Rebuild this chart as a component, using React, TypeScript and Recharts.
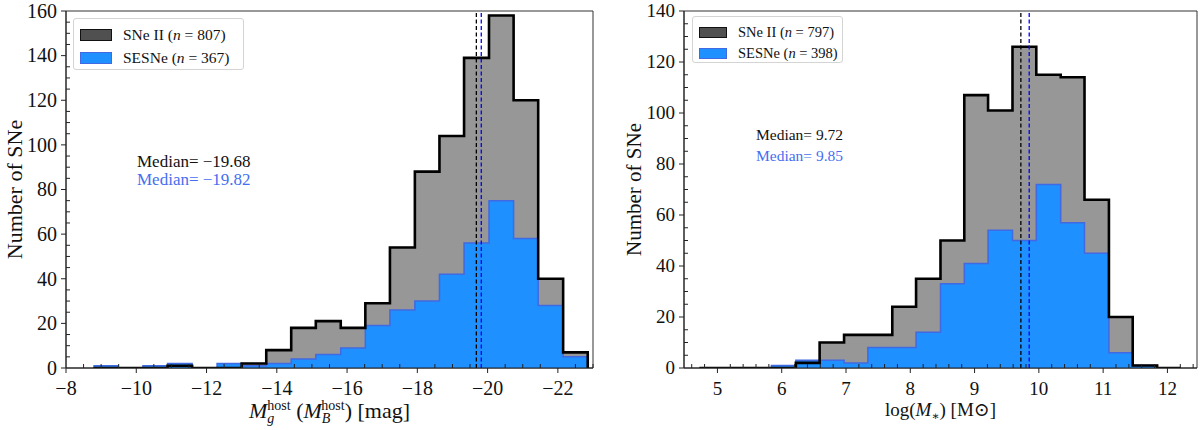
import React from "react";
import {
  ComposedChart,
  Area,
  Line,
  XAxis,
  YAxis,
  ReferenceLine,
  ReferenceArea,
  Label,
} from "recharts";

/* ---------------- data ---------------- */

// host absolute magnitude histogram (20 bins, brightest on the right)
const magEdges = [
  -8.78, -9.48, -10.19, -10.89, -11.59, -12.3, -13.0, -13.7, -14.41, -15.11,
  -15.82, -16.52, -17.22, -17.93, -18.63, -19.33, -20.04, -20.74, -21.44,
  -22.15, -22.85,
];
const magSNII = [0, 0, 0, 1, 0, 0, 2, 8, 18, 21, 18, 29, 54, 88, 104, 139, 158, 120, 40, 7];
const magSESNe = [1, 0, 1, 2, 0, 2, 1, 2, 4, 6, 9, 19, 26, 30, 42, 56, 75, 58, 28, 5];
const magMedianSNII = -19.68;
const magMedianSESNe = -19.82;
const magTicks = [-8, -10, -12, -14, -16, -18, -20, -22];
const magCountTicks = [0, 20, 40, 60, 80, 100, 120, 140, 160];

// host stellar mass histogram
const massEdges = [
  4.72, 5.09, 5.47, 5.84, 6.22, 6.59, 6.97, 7.34, 7.72, 8.09, 8.47, 8.84, 9.21,
  9.59, 9.96, 10.34, 10.71, 11.09, 11.46, 11.84, 12.21,
];
const massSNII = [0, 0, 0, 0, 2, 10, 13, 13, 24, 35, 50, 107, 101, 126, 115, 114, 66, 20, 1, 0];
const massSESNe = [0, 0, 0, 1, 3, 3, 2, 8, 8, 14, 33, 41, 54, 50, 72, 57, 45, 6, 1, 0];
const massMedianSNII = 9.72;
const massMedianSESNe = 9.85;
const massTicks = [5, 6, 7, 8, 9, 10, 11, 12];
const massCountTicks = [0, 20, 40, 60, 80, 100, 120, 140];

/* ---------------- helpers ---------------- */

const FONT = "'Liberation Serif', 'DejaVu Serif', serif";
const GREY = "#979797";
const BLUE = "#1e90ff";
const BLUE_EDGE = "#4169e1";
const TEXT_BLUE = "#466ef0";

const range = (a: number, b: number, step: number) => {
  const out: number[] = [];
  const n = Math.round((b - a) / step);
  for (let i = 0; i <= n; i++) out.push(+(a + i * step).toFixed(4));
  return out;
};

const withMinor = (majors: number[], minors: number[]) =>
  Array.from(new Set([...majors, ...minors])).sort((p, q) => p - q);

const isMajor = (majors: number[], v: number) =>
  majors.some((m) => Math.abs(m - v) < 1e-6);

const fmt = (v: number) => (v < 0 ? `\u2212${Math.abs(v)}` : `${v}`);

// each edge carries the count of the bin to its right; last edge closes at 0
const toRows = (edges: number[], a: number[], b: number[]) =>
  edges.map((x, i) => ({ x, snII: a[i] ?? 0, sesne: b[i] ?? 0 }));

const makeXTick = (majors: number[], fontSize: number) => (props: any) => {
  const { x, y, payload } = props;
  if (!isMajor(majors, payload.value)) {
    return <line x1={x} x2={x} y1={y} y2={y - 4} stroke="#222" strokeWidth={1} />;
  }
  return (
    <g>
      <line x1={x} x2={x} y1={y} y2={y + 5} stroke="#222" strokeWidth={1} />
      <text x={x} y={y + 27} textAnchor="middle" fontSize={fontSize} fontFamily={FONT} fill="#111">
        {fmt(payload.value)}
      </text>
    </g>
  );
};

const makeYTick = (majors: number[], fontSize: number) => (props: any) => {
  const { x, y, payload } = props;
  if (!isMajor(majors, payload.value)) {
    return <line x1={x} x2={x + 4} y1={y} y2={y} stroke="#222" strokeWidth={1} />;
  }
  return (
    <g>
      <line x1={x - 5} x2={x} y1={y} y2={y} stroke="#222" strokeWidth={1} />
      <text x={x - 9} y={y} dy="0.34em" textAnchor="end" fontSize={fontSize} fontFamily={FONT} fill="#111">
        {payload.value}
      </text>
    </g>
  );
};

const yTitle = (cx: number, fontSize: number) => (props: any) => {
  const vb = props.viewBox;
  const cy = vb.y + vb.height / 2;
  return (
    <text
      x={cx}
      y={cy}
      transform={`rotate(-90 ${cx} ${cy})`}
      textAnchor="middle"
      dominantBaseline="central"
      fontSize={fontSize}
      fontFamily={FONT}
      fill="#111"
    >
      Number of SNe
    </text>
  );
};

const magTitle = (props: any) => {
  const vb = props.viewBox;
  const cx = vb.x + vb.width / 2;
  return (
    <text x={cx} y={vb.y + 50} textAnchor="middle" fontSize={22} fontFamily={FONT} fill="#111">
      <tspan fontStyle="italic">M</tspan>
      <tspan fontSize={14} fontStyle="italic" dy={5}>g</tspan>
      <tspan fontSize={14} dx={-7} dy={-13}>host</tspan>
      <tspan dy={8}> (</tspan>
      <tspan fontStyle="italic">M</tspan>
      <tspan fontSize={14} fontStyle="italic" dy={5}>B</tspan>
      <tspan fontSize={14} dx={-9} dy={-13}>host</tspan>
      <tspan dy={8}>) [mag]</tspan>
    </text>
  );
};

const massTitle = (props: any) => {
  const vb = props.viewBox;
  const cx = vb.x + vb.width / 2;
  return (
    <text x={cx} y={vb.y + 48} textAnchor="middle" fontSize={19} fontFamily={FONT} fill="#111">
      <tspan>log(</tspan>
      <tspan fontStyle="italic">M</tspan>
      <tspan fontSize={12} dy={4}>{"\u2217"}</tspan>
      <tspan dy={-4}>) [M{"\u2299"}]</tspan>
    </text>
  );
};

/* ---------------- overlays ---------------- */

type LegendProps = {
  left: number;
  top: number;
  width: number;
  height: number;
  fontSize: number;
  patchW: number;
  patchH: number;
  rowGap: number;
  nII: number;
  nSE: number;
};

const LegendBox = ({ left, top, width, height, fontSize, patchW, patchH, rowGap, nII, nSE }: LegendProps) => {
  const rows = [
    { label: "SNe II", n: nII, fill: "#505050", edge: "#111" },
    { label: "SESNe", n: nSE, fill: BLUE, edge: BLUE_EDGE },
  ];
  return (
    <div
      style={{
        position: "absolute",
        left,
        top,
        width,
        height,
        boxSizing: "border-box",
        border: "1px solid #d4d4d4",
        borderRadius: 3,
        background: "rgba(255,255,255,0.85)",
        fontFamily: FONT,
        fontSize,
        color: "#111",
      }}
    >
      {rows.map((r, i) => (
        <div
          key={r.label}
          style={{
            position: "absolute",
            left: 6,
            top: 7 + i * rowGap,
            display: "flex",
            alignItems: "center",
            whiteSpace: "nowrap",
          }}
        >
          <div
            style={{
              width: patchW,
              height: patchH,
              boxSizing: "border-box",
              background: r.fill,
              border: `1px solid ${r.edge}`,
              marginRight: 11,
            }}
          />
          <span>
            {r.label} (<i>n</i> = {r.n})
          </span>
        </div>
      ))}
    </div>
  );
};

const MedianText = ({ left, top, fontSize, a, b, gap }: { left: number; top: number; fontSize: number; a: number; b: number; gap: number }) => (
  <div style={{ position: "absolute", left, top, fontFamily: FONT, fontSize, lineHeight: `${gap}px`, whiteSpace: "nowrap" }}>
    <div style={{ color: "#111" }}>Median= {fmt(a)}</div>
    <div style={{ color: TEXT_BLUE }}>Median= {fmt(b)}</div>
  </div>
);

/* ---------------- panels ---------------- */

const magRows = toRows(magEdges, magSNII, magSESNe);
const massRows = toRows(massEdges, massSNII, massSESNe);

const Histograms = ({
  rows,
  domain,
  reversed,
  xTicks,
  xMajors,
  yTicks,
  yMajors,
  yMax,
  yAxisWidth,
  marginRight,
  medians,
  xTitle,
  yTitleX,
  yTitleSize,
  tickFont,
}: any) => (
  <ComposedChart
    width={600}
    height={430}
    data={rows}
    margin={{ top: 11, right: marginRight, bottom: 0, left: 0 }}
  >
    <XAxis
      dataKey="x"
      type="number"
      domain={domain}
      reversed={reversed}
      allowDataOverflow
      ticks={xTicks}
      interval={0}
      tickSize={0}
      tickMargin={0}
      tickLine={false}
      tick={makeXTick(xMajors, tickFont)}
      axisLine={{ stroke: "#222" }}
      height={62}
    >
      <Label content={xTitle} />
    </XAxis>
    <YAxis
      type="number"
      domain={[0, yMax]}
      allowDataOverflow
      ticks={yTicks}
      interval={0}
      tickSize={0}
      tickMargin={0}
      tickLine={false}
      tick={makeYTick(yMajors, tickFont)}
      axisLine={{ stroke: "#222" }}
      width={yAxisWidth}
    >
      <Label content={yTitle(yTitleX, yTitleSize)} />
    </YAxis>
    <ReferenceArea
      x1={domain[0]}
      x2={domain[1]}
      y1={0}
      y2={yMax}
      fill="none"
      fillOpacity={0}
      stroke="#333"
      strokeWidth={1}
    />
    <Area
      type="stepAfter"
      dataKey="snII"
      fill={GREY}
      fillOpacity={1}
      stroke="#b4b4b4"
      strokeWidth={1.5}
      activeDot={false}
      isAnimationActive={false}
    />
    <Area
      type="stepAfter"
      dataKey="sesne"
      fill={BLUE}
      fillOpacity={1}
      stroke={BLUE_EDGE}
      strokeWidth={1.5}
      activeDot={false}
      isAnimationActive={false}
    />
    <Line
      type="stepAfter"
      dataKey="snII"
      stroke="#000"
      strokeWidth={2.6}
      dot={false}
      activeDot={false}
      isAnimationActive={false}
    />
    <ReferenceLine x={medians[0]} stroke="#000" strokeDasharray="4 2.5" strokeWidth={1.3} />
    <ReferenceLine x={medians[1]} stroke="#0000ff" strokeDasharray="4 2.5" strokeWidth={1.3} />
  </ComposedChart>
);

export default function App() {
  return (
    <div style={{ position: "fixed", left: 0, top: 0, width: 1200, height: 430, background: "#fff" }}>
      <div style={{ position: "absolute", left: 0, top: 0 }}>
        <Histograms
          rows={magRows}
          domain={[-23, -8]}
          reversed
          xTicks={withMinor(magTicks, range(-23, -8, 0.5))}
          xMajors={magTicks}
          yTicks={withMinor(magCountTicks, range(0, 160, 5))}
          yMajors={magCountTicks}
          yMax={160}
          yAxisWidth={66}
          marginRight={7}
          medians={[magMedianSNII, magMedianSESNe]}
          xTitle={magTitle}
          yTitleX={14}
          yTitleSize={22}
          tickFont={20}
        />
      </div>
      <div style={{ position: "absolute", left: 600, top: 0 }}>
        <Histograms
          rows={massRows}
          domain={[4.48, 12.46]}
          reversed={false}
          xTicks={withMinor(massTicks, range(4.6, 12.4, 0.2))}
          xMajors={massTicks}
          yTicks={withMinor(massCountTicks, range(0, 140, 5))}
          yMajors={massCountTicks}
          yMax={140}
          yAxisWidth={84}
          marginRight={3}
          medians={[massMedianSNII, massMedianSESNe]}
          xTitle={massTitle}
          yTitleX={34}
          yTitleSize={21}
          tickFont={19}
        />
      </div>
      <LegendBox left={73} top={18} width={171} height={52} fontSize={15.5} patchW={32} patchH={12} rowGap={23} nII={807} nSE={367} />
      <LegendBox left={692} top={16} width={151} height={47} fontSize={14.5} patchW={28} patchH={11} rowGap={21} nII={797} nSE={398} />
      <MedianText left={137} top={153} fontSize={17} a={magMedianSNII} b={magMedianSESNe} gap={18} />
      <MedianText left={756} top={124} fontSize={15.5} a={massMedianSNII} b={massMedianSESNe} gap={21} />
    </div>
  );
}
